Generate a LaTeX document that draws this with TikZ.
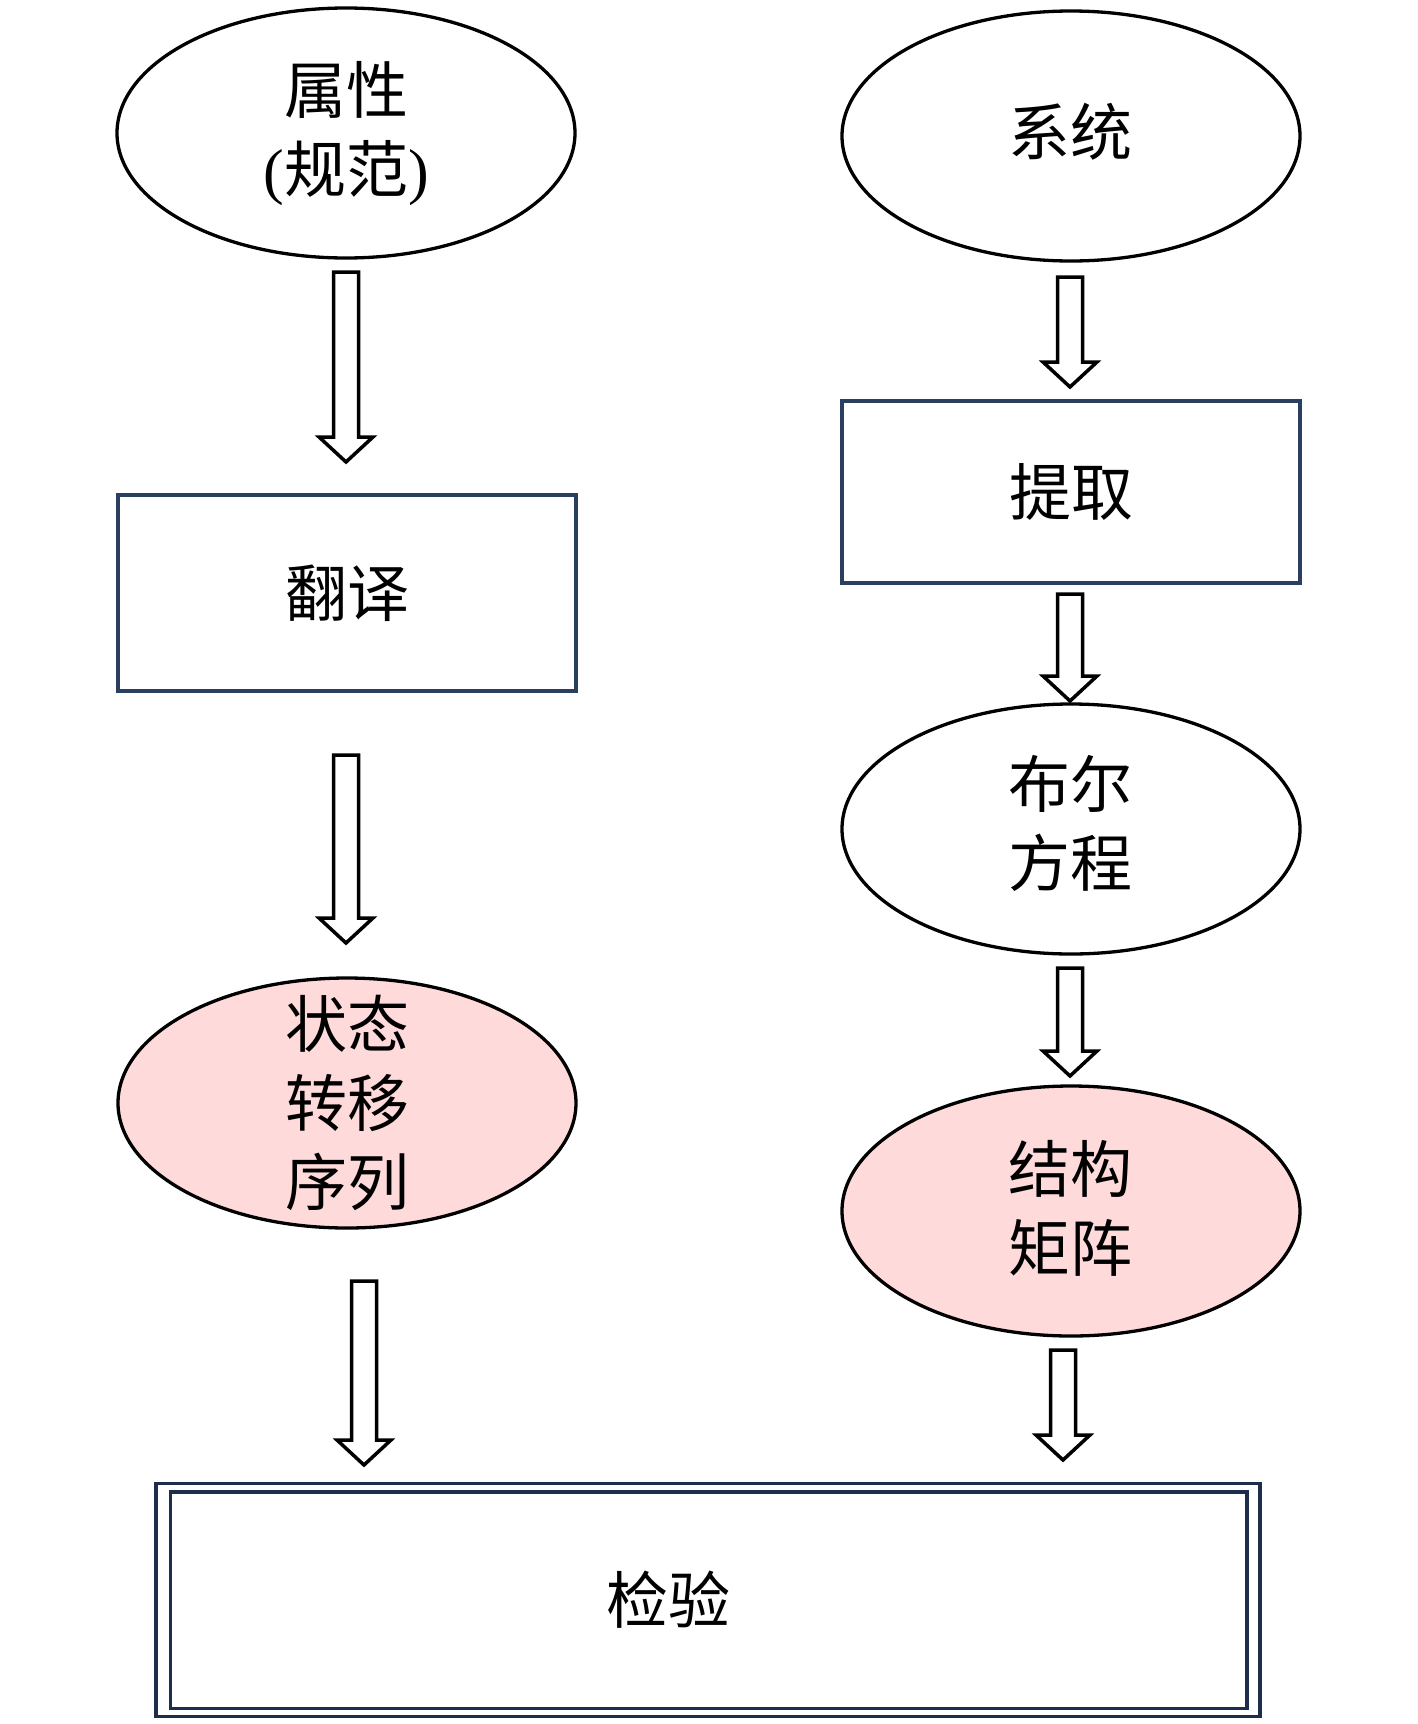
\documentclass[tikz,border=0pt]{standalone}
\usepackage{fontspec}
\setmainfont{Liberation Serif}
\newfontfamily\cjk{Noto Sans CJK SC}
\usetikzlibrary{shapes.geometric,calc}
\definecolor{boxblue}{RGB}{42,62,96}
\definecolor{framenavy}{RGB}{28,45,78}
\definecolor{pinkfill}{RGB}{255,218,219}
\tikzset{
  lbl/.style={font=\cjk\fontsize{62}{79}\selectfont, align=center, text=black, inner sep=0pt},
  ell/.style={ellipse, draw=black, line width=3.3pt, fill=white, inner sep=0pt,
              minimum width=458pt, minimum height=250pt},
  pinkell/.style={ell, fill=pinkfill},
  rectbox/.style={rectangle, draw=boxblue, line width=3.2pt, fill=white, inner sep=0pt, lbl},
  fatarrow/.style={draw=black, line width=3.5pt, fill=white, line join=miter},
}
\newcommand\blockarrow[2]{%
  \draw[fatarrow] let \p1=(#1), \p2=(#2) in
    (\x1-12.5pt,\y1) -- (\x1+12.5pt,\y1) -- (\x1+12.5pt,\y2+25pt) --
    (\x1+27pt,\y2+25pt) -- (\x1,\y2) -- (\x1-27pt,\y2+25pt) --
    (\x1-12.5pt,\y2+25pt) -- cycle;}
\begin{document}
\begin{tikzpicture}[x=1pt,y=-1pt]
\useasboundingbox[fill=white] (0,0) rectangle (1417,1724);
% left column
\node[ell] (attr) at (346,133) {};
\node[lbl] (attrlbl) at (346,134) {属性\\{\rmfamily(}规范{\rmfamily)}};
\node[rectbox, minimum width=458pt, minimum height=196pt] (trans) at (347,593) {翻译};
\node[pinkell] (seq) at (347,1103) {};
\node[lbl] (seqlbl) at (347,1103) {状态\\转移\\序列};
% right column
\node[ell] (sys) at (1071,136) {};
\node[lbl] (syslbl) at (1070,132) {系统};
\node[rectbox, minimum width=458pt, minimum height=182pt] (extr) at (1071,492) {提取};
\node[ell] (bool) at (1071,829) {};
\node[lbl] (boollbl) at (1070,823) {布尔\\方程};
\node[pinkell] (mat) at (1071,1211) {};
\node[lbl] (matlbl) at (1070,1208) {结构\\矩阵};
% bottom double frame
\node[rectangle, draw=framenavy, line width=3.5pt, fill=white, inner sep=0pt,
      minimum width=1104pt, minimum height=233pt] (check) at (708,1600) {};
\draw[framenavy, line width=3.5pt] ($(check.north west)+(16,10)$) rectangle ($(check.south east)+(-15,-10)$);
\node[lbl] (checklbl) at (668,1600) {检验};
% arrow end points
\coordinate (a1s) at (346,272);  \coordinate (a1e) at (346,462);
\coordinate (a2s) at (346,755);  \coordinate (a2e) at (346,943);
\coordinate (a3s) at (364,1281); \coordinate (a3e) at (364,1465);
\coordinate (a4s) at (1070,277); \coordinate (a4e) at (1070,387);
\coordinate (a5s) at (1070,594); \coordinate (a5e) at (1070,701);
\coordinate (a6s) at (1070,968); \coordinate (a6e) at (1070,1076);
\coordinate (a7s) at (1063,1350); \coordinate (a7e) at (1063,1460);
\blockarrow{a1s}{a1e}
\blockarrow{a2s}{a2e}
\blockarrow{a3s}{a3e}
\blockarrow{a4s}{a4e}
\blockarrow{a5s}{a5e}
\blockarrow{a6s}{a6e}
\blockarrow{a7s}{a7e}
\end{tikzpicture}
\end{document}
